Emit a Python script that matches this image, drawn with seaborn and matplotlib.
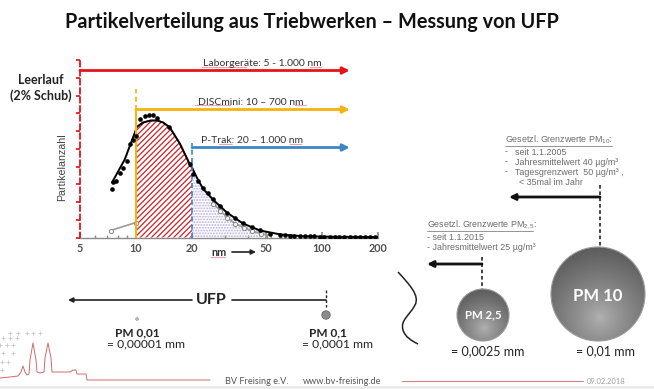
import numpy as np
import matplotlib
matplotlib.use("Agg")
import matplotlib.pyplot as plt
import seaborn as sns
from matplotlib.patches import Circle, Rectangle, PathPatch
from matplotlib.path import Path
from matplotlib.ticker import FixedLocator, NullFormatter, LogLocator

sns.set_theme(style="white")
plt.rcParams["font.family"] = ["Lato", "DejaVu Sans"]
plt.rcParams["mathtext.fontset"] = "custom"
plt.rcParams["mathtext.rm"] = "Liberation Sans"
plt.rcParams["mathtext.it"] = "Liberation Sans"
plt.rcParams["hatch.linewidth"] = 0.9

# ---------------- data ----------------
dots_nm = [7.43, 7.52, 7.81, 8.2, 8.51, 8.95, 9.28, 9.64, 10.0, 10.5, 11.2, 11.7,
           12.3, 13.0, 15.0, 19.6, 20.3, 21.5, 22.9, 24.4, 25.9, 28.3, 30.8, 34.1,
           37.6, 42.0, 46.4, 52.5, 59.4, 63, 67, 71, 76, 81, 86, 91, 97, 103, 110,
           117, 124, 132, 141, 150, 160, 170, 181, 193]
dots_val = [49, 56, 57, 65, 70, 77, 94, 98, 102, 119, 122, 123, 123, 120, 111, 74,
            64, 57, 50, 45, 39, 32, 25, 20, 15, 11, 8, 4, 3, 2.4, 2, 1.7, 1.5, 1.3,
            1.2, 1.1, 1.0, 0.9, 0.9, 0.8, 0.8, 0.7, 0.7, 0.7, 0.6, 0.6, 0.6, 0.6]

left_nm = [7.43, 8.7, 10.0]
left_val = [55, 78, 108]

fit_nm = [10.0, 10.9, 12.0, 13.0, 14.0, 15.2, 17.2, 19.6, 20.0, 21.5, 22.9, 25.9,
          30.8, 37.6, 46.4, 60.0, 80.0, 120.0, 200.0]
fit_val = [110, 115, 117, 117, 115, 110, 94, 72, 70, 58, 49, 38, 25, 14, 7, 3, 1.2,
           0.7, 0.5]

open_left_nm = [7.3, 10.0]
open_left_val = [7, 15]
open_tail_nm = [26.0, 28.3, 31.0, 34.0, 38.0, 42.0, 47.0, 52.0]
open_tail_val = [34, 27, 20, 14, 10, 6.5, 4, 2]

xticks = [5, 10, 20, 50, 100, 200]
xtick_labels = ["5", "10", "20", "50", "100", "200"]

ranges = [("Laborgeräte: 5 - 1.000 nm", 5, 167),
          ("DISCmini: 10 – 700 nm", 10, 128),
          ("P-Trak: 20 – 1.000 nm", 20, 90)]
range_colors = ["#e3151b", "#f6b20f", "#3b86c8"]

pm_names = ["PM 0,01", "PM 0,1", "PM 2,5", "PM 10"]
pm_sizes = ["= 0,00001 mm", "= 0,0001 mm", "= 0,0025 mm", "= 0,01 mm"]

RED, ORANGE, BLUE = range_colors

# ---------------- figure ----------------
fig = plt.figure(figsize=(6.54, 3.89), dpi=100, facecolor="white")

bg = fig.add_axes([0, 0, 1, 1], zorder=0)
bg.set_xlim(0, 654)
bg.set_ylim(389, 0)
bg.axis("off")

ax = fig.add_axes([80 / 654, (389 - 237.5) / 389, 298 / 654, 177.5 / 389], zorder=2)
ax.set_facecolor("none")
ax.set_xscale("log")

# fills
fx = [x for x in fit_nm if x <= 20.0]
fy = fit_val[:len(fx)]
ax.fill_between(fx, fy, 0, facecolor="white", edgecolor="#cc2229", hatch="//////",
                linewidth=0, zorder=2)
ax.plot(fx, fy, color="#7c1414", lw=1.0, zorder=3)
dx = [x for x in fit_nm if 20.0 <= x <= 50]
i0 = fit_nm.index(dx[0])
dy = fit_val[i0:i0 + len(dx)]
ax.fill_between(dx, dy, 0, facecolor="none", edgecolor="#b3acdc", hatch="......",
                linewidth=0, zorder=2)

for onm, oval in [(open_left_nm, open_left_val), (open_tail_nm, open_tail_val)]:
    sns.lineplot(x=onm, y=oval, ax=ax, color="#9a9a9a", lw=1.2, marker="o",
                 markersize=3, markerfacecolor="white", markeredgecolor="#8a8a8a",
                 sort=False, estimator=None, zorder=3)
sns.lineplot(x=left_nm, y=left_val, ax=ax, color="black", lw=1.4, sort=False,
             estimator=None, zorder=4)
sns.lineplot(x=fit_nm, y=fit_val, ax=ax, color="black", lw=1.4, sort=False,
             estimator=None, zorder=4)
sns.scatterplot(x=dots_nm, y=dots_val, ax=ax, color="black", s=11, linewidth=0,
                zorder=5)

ax.set_xlim(5, 200)
ax.set_ylim(0, 177.5)

# range lines / arrows
ax.plot([10, 10], [128, 149], ls=(0, (3, 2)), color=ORANGE, lw=1.2, zorder=4)
ax.plot([10, 10], [0, 128], color=ORANGE, lw=1.5, zorder=4)
ax.plot([20, 20], [0, 95], ls=(0, (3, 2)), color=BLUE, lw=1.2, zorder=4)
text_x = [47.6, 41.5, 42.0]
for (lab, x0, y0), col, tx in zip(ranges, range_colors, text_x):
    ax.annotate("", xy=(141, y0), xytext=(x0, y0),
                arrowprops=dict(arrowstyle="-|>", color=col, lw=2.0,
                                mutation_scale=10, shrinkA=0, shrinkB=0),
                annotation_clip=False, zorder=6)
    ax.text(tx, y0 + 7, lab, ha="center", va="center", fontsize=7.5,
            color="#333333", clip_on=False)

# axes styling
for s in ["top", "right"]:
    ax.spines[s].set_visible(False)
ax.spines["bottom"].set_color("#8a8a8a")
ax.spines["bottom"].set_linewidth(1.0)
ax.spines["left"].set_color(RED)
ax.spines["left"].set_linewidth(1.3)
ax.spines["left"].set_linestyle((0, (3, 2)))
ax.set_xticks(xticks)
ax.set_xticklabels(xtick_labels, fontweight="bold")
ax.xaxis.set_minor_locator(LogLocator(base=10, subs=np.arange(2, 10)))
ax.xaxis.set_minor_formatter(NullFormatter())
ax.tick_params(axis="x", which="major", direction="in", length=4, color="#8a8a8a",
               labelsize=7.8, labelcolor="#505050", pad=4, bottom=True)
ax.tick_params(axis="x", which="minor", direction="in", length=2.5, color="#8a8a8a",
               bottom=True)
ax.yaxis.set_major_locator(FixedLocator(np.arange(0, 178, 17.75)))
ax.tick_params(axis="y", which="major", direction="out", length=3, color=RED,
               labelleft=False, left=True)
ax.set_xlabel("")
ax.set_ylabel("")

# ---------------- slide decoration ----------------
bg.text(312, 21.5, "Partikelverteilung aus Triebwerken – Messung von UFP",
        ha="center", va="center", fontsize=14.3, fontweight="bold", color="#111111")
bg.text(41, 80, "Leerlauf", ha="center", va="center", fontsize=9,
        fontweight="bold", color="#222222")
bg.text(41, 96, "(2% Schub)", ha="center", va="center", fontsize=9,
        fontweight="bold", color="#222222")
bg.text(62, 167, "Partikelanzahl", ha="center", va="center", rotation=90,
        fontsize=7.7, color="#444444", family="Liberation Sans")
bg.text(219, 252, "nm", ha="center", va="center", fontsize=7.8, fontweight="bold",
        color="#333333")
bg.annotate("", xy=(256, 252), xytext=(232, 252),
            arrowprops=dict(arrowstyle="-|>", color="#222222", lw=1.2,
                            mutation_scale=7, shrinkA=0, shrinkB=0))


def squiggle(x0, x1, y):
    xs = np.arange(x0, x1 + 0.01, 1.5)
    ys = y + 0.5 * np.where(np.arange(len(xs)) % 2 == 0, -1, 1)
    bg.plot(xs, ys, color="#e06060", lw=0.4, zorder=3)


for (a, b, y) in [(202, 247, 67.5), (310, 323, 67.5), (195, 232, 105.5),
                  (295, 307, 105.5), (219, 233, 144.5), (290, 303, 144.5),
                  (211, 226, 257.5)]:
    squiggle(a, b, y)

# UFP arrow
bg.annotate("", xy=(68, 300), xytext=(192, 300),
            arrowprops=dict(arrowstyle="-|>", color="#222222", lw=1.2,
                            mutation_scale=7, shrinkA=0, shrinkB=0))
bg.plot([232, 326], [300, 300], color="#222222", lw=1.2)
bg.text(211.5, 300, "UFP", ha="center", va="center", fontsize=11.5,
        fontweight="bold", color="#222222")
bg.plot([326, 326], [290, 307], color="#222222", lw=1.0, ls=(0, (2, 1.5)))
bg.add_patch(Circle((137, 319), 1.2, facecolor="white", edgecolor="#777777", lw=0.6))
bg.add_patch(Circle((326, 315), 4.2, facecolor="#8c8c8c", edgecolor="#666666", lw=0.6))

for name, size, cx in zip(pm_names[:2], pm_sizes[:2], [137, 328]):
    bg.text(cx, 333, name, ha="center", va="center", fontsize=8.5,
            fontweight="bold", color="#222222")
    bg.text(cx + 9, 344, size, ha="center", va="center", fontsize=8.7,
            color="#222222")


def gradient_circle(cx, cy, r):
    n = 200
    yy, xx = np.mgrid[-1:1:n * 1j, -1:1:n * 1j]
    d = np.sqrt((xx - 0.05) ** 2 + (yy - 0.5) ** 2)
    v = np.clip(d / 1.5, 0, 1) ** 0.8
    light = np.array([0.70, 0.70, 0.70])
    dark = np.array([0.36, 0.36, 0.36])
    img = light[None, None, :] * (1 - v[..., None]) + dark[None, None, :] * v[..., None]
    im = bg.imshow(img, extent=[cx - r, cx + r, cy + r, cy - r], origin="upper",
                   zorder=2, aspect="auto", interpolation="bilinear")
    c = Circle((cx, cy), r, transform=bg.transData, facecolor="none")
    im.set_clip_path(c)
    bg.add_patch(Circle((cx, cy), r, facecolor="none", edgecolor="#9a9a9a",
                        lw=0.8, zorder=3))


gradient_circle(483, 315, 26)
gradient_circle(598, 294, 47)
bg.set_xlim(0, 654)
bg.set_ylim(389, 0)
bg.text(483, 315, pm_names[2], ha="center", va="center", fontsize=8.3,
        fontweight="bold", color="white", zorder=4)
bg.text(598, 296, pm_names[3], ha="center", va="center", fontsize=12,
        fontweight="bold", color="white", zorder=4)
bg.text(488, 351, pm_sizes[2], ha="center", va="center", fontsize=9,
        color="#222222")
bg.text(605, 351, pm_sizes[3], ha="center", va="center", fontsize=9,
        color="#222222")

# dashed markers and black arrows for limits
bg.plot([600, 600], [185, 247], color="#333333", lw=1.3, ls=(0, (2, 1.5)))
bg.annotate("", xy=(509, 197), xytext=(600, 197),
            arrowprops=dict(arrowstyle="-|>", color="#111111", lw=2.0,
                            mutation_scale=9, shrinkA=0, shrinkB=0))
bg.plot([482, 482], [257, 289], color="#333333", lw=1.3, ls=(0, (2, 1.5)))
bg.annotate("", xy=(427, 264), xytext=(482, 264),
            arrowprops=dict(arrowstyle="-|>", color="#111111", lw=2.0,
                            mutation_scale=9, shrinkA=0, shrinkB=0))

gray = "#6b6b6b"
tf = dict(fontsize=6.4, color=gray, family="Liberation Sans", va="center", ha="left")
bg.text(505, 140, "Gesetzl. Grenzwerte PM$_{10}$:", **tf)
bg.plot([505, 612], [145.5, 145.5], color=gray, lw=0.5)
bg.text(505, 152, "-", **tf)
bg.text(515, 152, "seit 1.1.2005", **tf)
bg.text(505, 162, "-", **tf)
bg.text(515, 162, "Jahresmittelwert 40 µg/m³", **tf)
bg.text(505, 172, "-", **tf)
bg.text(515, 172, "Tagesgrenzwert  50 µg/m³ ,", **tf)
bg.text(519, 182, "< 35mal im Jahr", **tf)

bg.text(427, 225, "Gesetzl. Grenzwerte PM$_{2,5}$:", **tf)
bg.plot([427, 533], [231, 231], color=gray, lw=0.5)
bg.text(427, 237, "- seit 1.1.2015", **tf)
bg.text(427, 247, "- Jahresmittelwert 25 µg/m³", **tf)

# wave
verts = [(398, 272), (410, 285), (420, 296), (415, 305), (410, 315), (400, 320),
         (403, 330), (405, 337), (412, 341), (418, 344)]
codes = [Path.MOVETO] + [Path.CURVE4] * 9
bg.add_patch(PathPatch(Path(verts, codes), facecolor="none", edgecolor="#222222",
                       lw=1.1))

# skyline logo
sky = [(0, 378), (10, 377), (18, 376), (21, 372), (23, 366), (25, 372), (27, 375),
       (29, 374), (30, 360), (33, 343), (36, 360), (37, 372), (40, 373), (44, 372),
       (45, 358), (48, 343), (51, 358), (52, 372), (60, 372), (70, 372), (73, 370),
       (76, 370), (77, 374), (86, 374), (87, 380), (210, 380)]
bg.plot([p[0] for p in sky], [p[1] for p in sky], color="#cf6b6b", lw=0.7)
crosses = [(10, 333), (18, 333), (27, 333), (33, 333), (40, 333), (3, 338), (10, 338),
           (17, 338), (0, 345), (7, 345), (13, 345), (3, 353), (13, 353), (2, 362),
           (8, 362), (2, 370)]
bg.scatter([c[0] for c in crosses], [c[1] for c in crosses], marker="+", s=10,
           color="#c8c8c8", linewidths=0.6)

# footer
bg.text(225, 381, "BV Freising e.V.", ha="left", va="center", fontsize=6.6,
        color="#555555")
bg.text(303, 381, "www.bv-freising.de", ha="left", va="center", fontsize=6.6,
        color="#555555")
bg.plot([402, 583], [381, 381], color="#d98080", lw=0.8)
bg.text(587, 381, "09.02.2018", ha="left", va="center", fontsize=5.5,
        color="#a0a0a0")
bg.add_patch(Rectangle((0, 386), 654, 4, facecolor="#ececec", edgecolor="none"))

fig.savefig("out.png", dpi=100, facecolor="white")
